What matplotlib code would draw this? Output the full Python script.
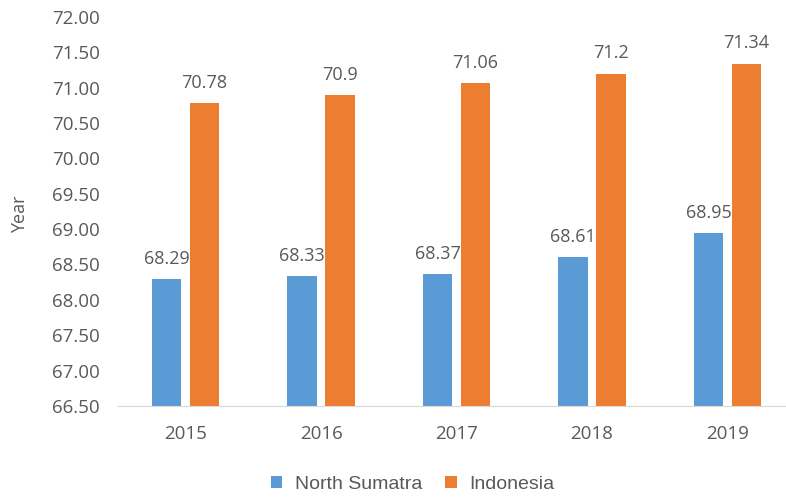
import numpy as np
import matplotlib.pyplot as plt

years = ["2015", "2016", "2017", "2018", "2019"]
north_sumatra = [68.29, 68.33, 68.37, 68.61, 68.95]
indonesia = [70.78, 70.9, 71.06, 71.2, 71.34]
ns_labels = ["68.29", "68.33", "68.37", "68.61", "68.95"]
id_labels = ["70.78", "70.9", "71.06", "71.2", "71.34"]

blue = "#5B9BD5"
orange = "#ED7D31"
txt = "#595959"

plt.rcParams['font.family'] = ['Open Sans', 'DejaVu Sans']

fig = plt.figure(figsize=(7.86, 4.98), dpi=100)
# plot area runs a little past the right edge of the figure
ax = fig.add_axes([0.1498, 0.185, 0.862, 0.781])

x = np.arange(len(years))
w = 0.22
off = 0.14
b1 = ax.bar(x - off, north_sumatra, w, bottom=0, color=blue, label="North Sumatra")
b2 = ax.bar(x + off, indonesia, w, bottom=0, color=orange, label="Indonesia")

for rects, labs in ((b1, ns_labels), (b2, id_labels)):
    for r, lab in zip(rects, labs):
        ax.annotate(lab, (r.get_x() + r.get_width() / 2, r.get_height()),
                    xytext=(0, 8), textcoords="offset points",
                    ha="center", va="bottom", fontsize=13, color=txt)

ax.set_ylim(66.5, 72.0)
ax.set_xlim(-0.5, len(years) - 0.5)
ax.set_yticks(np.arange(66.5, 72.01, 0.5))
ax.set_yticklabels([f"{v:.2f}" for v in np.arange(66.5, 72.01, 0.5)])
ax.set_xticks(x)
ax.set_xticklabels(years)
ax.tick_params(axis="both", length=0, labelsize=13.5, labelcolor=txt)
ax.tick_params(axis="x", pad=14)
ax.tick_params(axis="y", pad=13)

for s in ("top", "right", "left"):
    ax.spines[s].set_visible(False)
ax.spines["bottom"].set_color("#D9D9D9")

fig.text(0.025, 0.57, "Year", rotation=90, ha="center", va="center",
         fontsize=13, color=txt)

fig.legend(handles=[b1, b2], loc="center", bbox_to_anchor=(0.525, 0.028), ncol=2,
           frameon=False, prop={"family": "Liberation Sans", "size": 14},
           labelcolor=txt, handlelength=0.57, handleheight=0.57,
           columnspacing=1.2, handletextpad=0.65)

fig.savefig("out.png", dpi=100)
